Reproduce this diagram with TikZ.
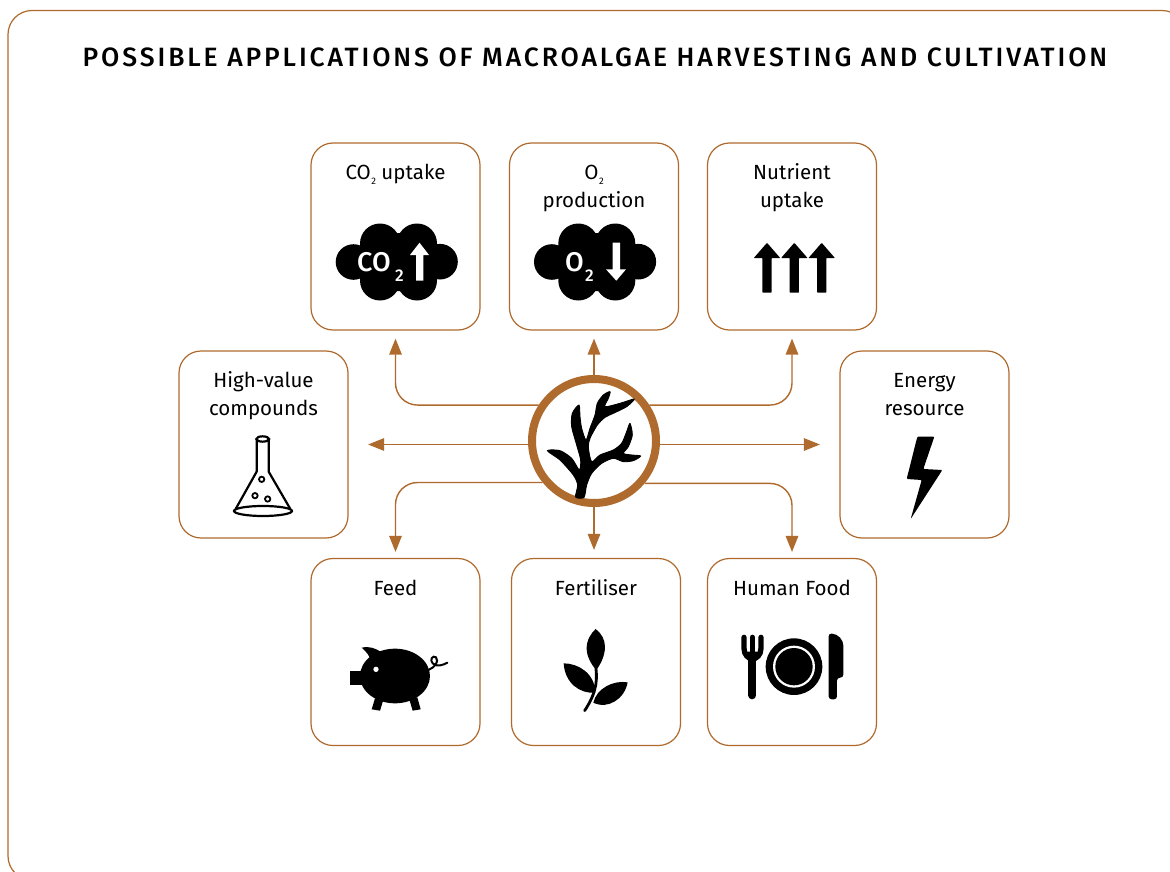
\documentclass[tikz,border=0pt]{standalone}
\usepackage{fontspec}
\setmainfont{Fira Sans}
\newfontfamily\titlefont{Fira Sans Medium}[LetterSpace=10.9]
\newfontfamily\cloudfont{Fira Sans Medium}
\usetikzlibrary{arrows.meta,calc}
\definecolor{rust}{HTML}{AF6A2D}
\newcommand{\subtwo}{\kern0.6pt{\fontsize{9.5}{9.5}\selectfont\raisebox{-5pt}{2}}}
\tikzset{
  x=1pt,y=-1pt,
  panel/.style={draw=rust,line width=1.2pt,rounded corners=22pt,fill=white,minimum width=169pt,minimum height=187pt,inner sep=0pt},
  caption/.style={font=\fontsize{20.5}{20.5}\selectfont,anchor=base,inner sep=0pt,text=black},
  conn/.style={draw=rust,line width=1.4pt,-{Triangle[length=16pt,width=12.5pt]}},
  zoomed/.style={shift={#1},x=0.3333pt,y=-0.3333pt},
  cloudtext/.style={font=\cloudfont\fontsize{27}{27}\selectfont,text=white,anchor=base west,inner sep=0pt},
  cloudsub/.style={font=\cloudfont\fontsize{17}{17}\selectfont,text=white,anchor=base west,inner sep=0pt},
}
\begin{document}
\begin{tikzpicture}
\useasboundingbox (0,0) rectangle (1170,872);
\clip (0,0) rectangle (1170,872);
\fill[white] (0,0) rectangle (1170,872);
\draw[draw=rust,line width=1.2pt,rounded corners=24pt] (8,10.5) rectangle (1186,880);
\node[font=\titlefont\fontsize{26.5}{26.5}\selectfont,anchor=base,inner sep=0pt] (title) at (595,66.7) {POSSIBLE APPLICATIONS OF MACROALGAE HARVESTING AND CULTIVATION};

% boxes
\node[panel] (co2) at (395.5,236.5) {};
\node[panel] (o2) at (594,236.5) {};
\node[panel] (nutrient) at (792,236.5) {};
\node[panel] (high) at (263.5,444.5) {};
\node[panel] (energy) at (924.5,444.5) {};
\node[panel] (feed) at (395.5,652) {};
\node[panel] (fert) at (596,652) {};
\node[panel] (food) at (792,652) {};

% captions
\node[caption] (t1) at (395.5,179) {CO\subtwo{} uptake};
\node[caption] (t2a) at (594,179) {O\subtwo};
\node[caption] (t2b) at (594,207) {production};
\node[caption] (t3a) at (792,179) {Nutrient};
\node[caption] (t3b) at (792,207) {uptake};
\node[caption] (t4a) at (263.5,387) {High-value};
\node[caption] (t4b) at (263.5,415) {compounds};
\node[caption] (t5a) at (924.5,387) {Energy};
\node[caption] (t5b) at (924.5,415) {resource};
\node[caption] (t6) at (395.5,595) {Feed};
\node[caption] (t7) at (596,595) {Fertiliser};
\node[caption] (t8) at (792,595) {Human Food};

% hub
\node[circle,draw=rust,line width=8pt,fill=white,minimum size=124pt,inner sep=0pt] (hub) at (594,441) {};

% connectors
\draw[conn,rounded corners=22pt,shorten >=8pt] (hub.147) -| (co2.south);
\draw[conn,shorten >=8pt] (hub.north) -- (o2.south);
\draw[conn,rounded corners=22pt,shorten >=8pt] (hub.33) -| (nutrient.south);
\draw[conn,shorten >=19.5pt] (hub.west |- high.east) -- (high.east);
\draw[conn,shorten >=19.5pt] (hub.east |- energy.west) -- (energy.west);
\draw[conn,rounded corners=22pt,shorten >=6pt] (hub.219.5) -| (feed.north);
\draw[conn,shorten >=8pt] (hub.south) -- (hub.south |- fert.north);
\draw[conn,rounded corners=22pt,shorten >=6pt] (hub.320.5) -| (food.north);

% seaweed
\begin{scope}[zoomed={(510,360)}]
\filldraw[black,line width=0.9pt,line join=round] plot[smooth cycle,tension=.45] coordinates {
(197,411) (203,375) (190,345) (150,300) (112,272) (150,272) (185,295) (208,330) (212,300) (200,255) (185,200) (187,160) (207,135)
(210,170) (215,205) (228,240) (240,205) (255,165) (262,130) (280,105) (300,95) (295,115) (285,140) (330,130) (373,117)
(350,140) (310,160) (285,172) (262,195) (240,235) (235,262) (245,305) (270,285) (310,270) (335,250) (350,215) (360,190)
(367,225) (355,260) (340,280) (365,285) (392,288) (370,302) (340,305) (310,295) (275,310) (245,340) (230,375) (222,412)};
\end{scope}

% clouds
\foreach \dx in {0,198.3}{
 \begin{scope}[shift={(\dx,0)}]
 \fill[black] (353.5,262) circle[radius=17.8pt] (380,243.5) circle[radius=20pt] (417,243.5) circle[radius=20pt]
  (380,280.5) circle[radius=20pt] (417,280.5) circle[radius=20pt] (440,261.7) circle[radius=17.8pt]
  (355,250) rectangle (440,275) (380,233) rectangle (417,291);
 \end{scope}}
\node[cloudtext] (cotxt) at (357,271.7) {CO};
\node[cloudsub] (cosub) at (395,281.7) {2};
\node[cloudtext] (otxt) at (565,271.7) {O};
\node[cloudsub] (osub) at (585,281.7) {2};
\fill[white] (419.5,242.7) -- (429,255) -- (423.3,255) -- (423.3,280.7) -- (416,280.7) -- (416,255) -- (410,255) -- cycle;
\fill[white] (616.3,280.7) -- (606,269.3) -- (612.7,269.3) -- (612.7,242.7) -- (620,242.7) -- (620,269.3) -- (626,269.3) -- cycle;

% nutrient arrows
\foreach \ax in {767,794.3,821.7}{
 \fill[black,rounded corners=0.6pt] (\ax,242.8) -- (\ax+13.2,258) -- (\ax+4.6,258) -- (\ax+4.6,292.7) -- (\ax-4.6,292.7) -- (\ax-4.6,258) -- (\ax-13.2,258) -- cycle;
}

% flask
\begin{scope}[zoomed={(220,425)}]
\draw[black,line width=2.2pt,line join=round] (110,42) -- (110,140) -- (47,252) (146,42) -- (146,140) -- (211,252);
\draw[black,line width=2.2pt] (128,42) ellipse[x radius=19,y radius=8];
\draw[black,line width=2.2pt] (129,258) ellipse[x radius=87,y radius=15];
\draw[black,line width=1.8pt] (125,163) circle[radius=8] (105,212) circle[radius=8] (143,222) circle[radius=8];
\end{scope}

% bolt
\begin{scope}[zoomed={(890,425)}]
\fill[black,rounded corners=1pt] (82,35) -- (133,35) -- (100,132) -- (157,135) -- (62,282) -- (95,165) -- (50,162) -- cycle;
\end{scope}

% pig
\begin{scope}[zoomed={(330,620)}]
\fill[black] (195,168) ellipse[x radius=105,y radius=82];
\fill[black] (60,153) rectangle (105,195);
\fill[black] (95,83) .. controls (120,78) and (135,85) .. (152,95) -- (120,118) .. controls (118,105) and (108,95) .. (95,83) -- cycle;
\fill[black] (135,235) -- (160,240) -- (150,272) -- (125,268) -- cycle;
\fill[black] (237,235) -- (262,232) -- (272,268) -- (248,272) -- cycle;
\fill[white] (138,148) circle[radius=8];
\draw[black,line width=2pt,line cap=round] (295,150) .. controls (315,142) and (328,125) .. (318,112) .. controls (308,104) and (298,120) .. (308,130) .. controls (320,142) and (340,135) .. (352,128);
\end{scope}

% plant
\begin{scope}[zoomed={(330,620)}]
\fill[black] (797,27) .. controls (815,40) and (825,60) .. (825,80) .. controls (825,110) and (810,135) .. (799,150) .. controls (785,135) and (770,110) .. (770,85) .. controls (770,60) and (783,40) .. (797,27) -- cycle;
\fill[black] (701,130) .. controls (745,130) and (795,160) .. (796,218) .. controls (750,222) and (705,190) .. (701,130) -- cycle;
\fill[black] (893,187) .. controls (885,235) and (835,270) .. (790,248) .. controls (800,205) and (850,180) .. (893,187) -- cycle;
\draw[black,line width=2.8pt,line cap=round] (798,145) .. controls (803,190) and (795,225) .. (764,272);
\end{scope}

% cutlery
\begin{scope}[zoomed={(720,620)}]
\fill[black] (222,140) circle[radius=85];
\fill[white] (222,140) circle[radius=63];
\fill[black] (222,140) circle[radius=56];
\draw[black,line width=5.3pt,line cap=round] (72,52) -- (72,85) .. controls (72,105) and (85,115) .. (97,118) .. controls (110,115) and (123,105) .. (123,85) -- (123,52);
\draw[black,line width=5.3pt,line cap=round] (97,52) -- (97,120);
\fill[black] (72,95) -- (123,95) -- (105,125) -- (90,125) -- cycle;
\draw[black,line width=8pt,line cap=round] (97,110) -- (97,226);
\fill[black,rounded corners=3pt] (326,40) .. controls (355,42) and (370,60) .. (370,85) -- (370,173) -- (351,173) -- (351,238) -- (326,238) -- cycle;
\end{scope}
\end{tikzpicture}
\end{document}
